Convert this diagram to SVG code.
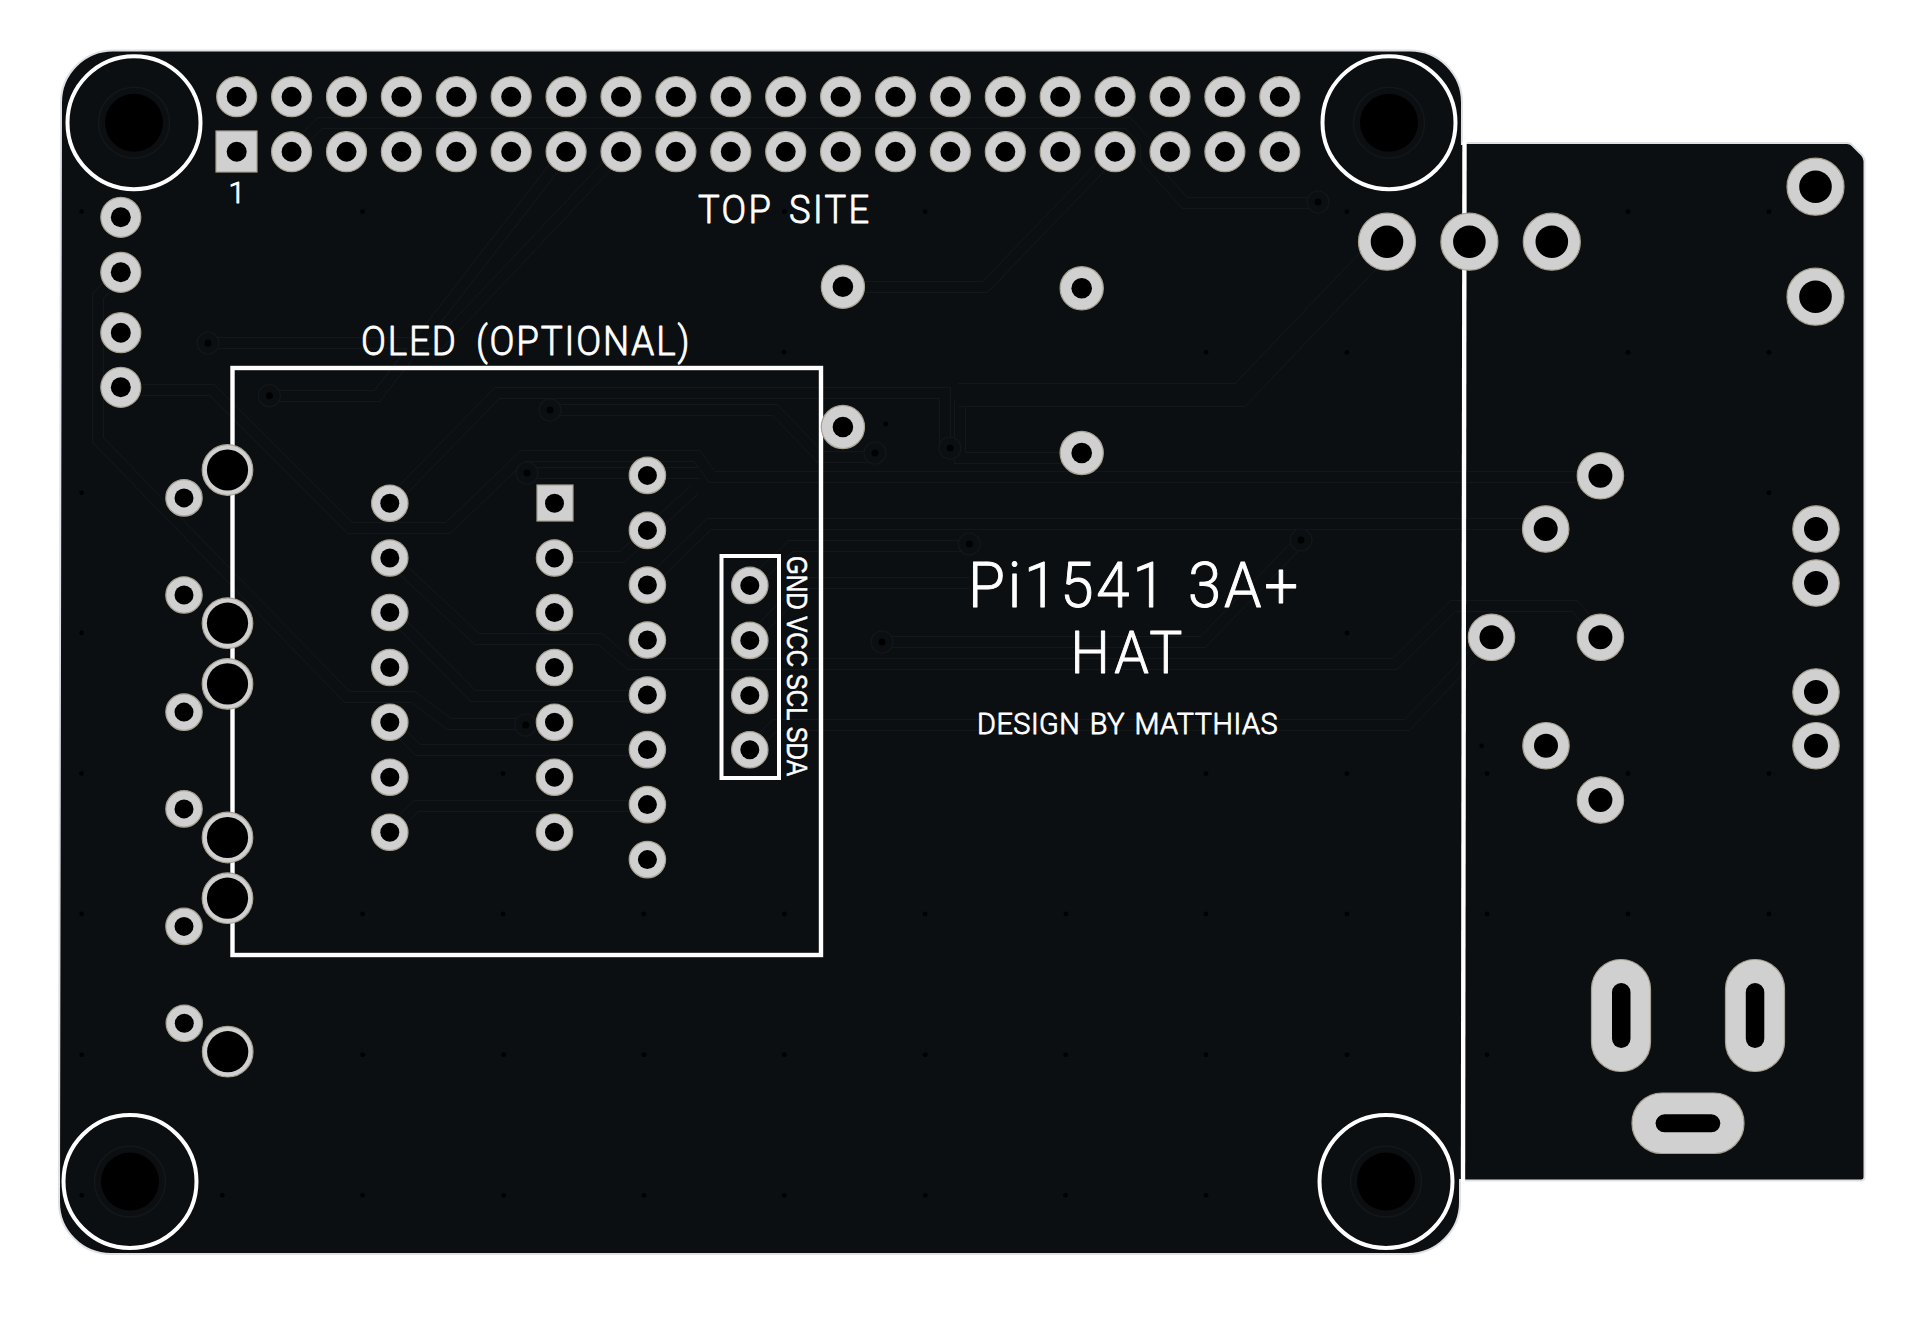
<svg xmlns="http://www.w3.org/2000/svg" xmlns:xlink="http://www.w3.org/1999/xlink" width="1920" height="1337" viewBox="0 0 1920 1337">
<style>
.p{fill:#d0d0d0;stroke:#a8a292;stroke-width:1.2}
.h{fill:#000}
.b{fill:#0c0f12;stroke:#e0e1e5;stroke-width:2}
.silk{fill:none;stroke:#fff}
.t{font-family:Roboto,"Liberation Sans",sans-serif;font-weight:300;fill:#fff;stroke:#fff;stroke-width:.9;stroke-linejoin:round}
.tb{font-family:"Liberation Sans",Arial,sans-serif;fill:#fff;stroke:#fff;stroke-width:.5}
.d{fill:#000}
.tr{fill:none;stroke-linejoin:miter}
</style>
<defs>
<g id="pad20"><circle class="p" r="20"/><circle class="h" r="10"/></g>
<g id="pad18"><circle class="p" r="18.2"/><circle class="h" r="9.5"/></g>
<g id="pad22"><circle class="p" r="21.6"/><circle class="h" r="10.3"/></g>
<g id="pad23"><circle class="p" r="23.2"/><circle class="h" r="12"/></g>
<g id="pad29"><circle class="p" r="28.5"/><circle class="h" r="16.3"/></g>
<g id="ring25"><circle class="p" r="25.3"/><circle class="h" r="20.6"/></g>
<g id="mount"><circle r="35.5" fill="#0c0f12" stroke="#14171a" stroke-width="1.5"/><circle class="h" r="29"/><circle class="silk" r="66.5" stroke-width="4"/></g>
<g id="via"><circle r="11" fill="#0c0f12" stroke="#14171a" stroke-width="1.2"/><circle class="h" r="3.5"/></g>
<g id="traces">
<path d="M121,390H212L350,528H448L523,456H697L712,477H1600"/>
<path d="M121,272L98,296V440L347,697H413L449,724H525"/>
<path d="M390,558L477,639H600L630,664H1395L1453,606H1575L1600,637"/>
<path d="M390,612L473,696H647"/>
<path d="M390,722L418,750H647"/>
<path d="M390,832L416,806H647"/>
<path d="M554,557H622L695,489"/>
<path d="M647,585L709,524H1545"/>
<path d="M390,503L497,393H945V448"/>
<path d="M960,400V458H1075"/>
<path d="M750,585L791,546H969"/>
<path d="M750,640L806,583H970"/>
<path d="M882,642H1203L1301,540"/>
<path d="M750,750L775,725H1407L1490,637"/>
<path d="M269,396H377L566,152"/>
<path d="M208,343H440L620,152"/>
<path d="M291,152L320,123H1128L1146,143V160L1185,203H1318"/>
<path d="M843,287H985L1115,152"/>
<path d="M550,410H775L820,457H870"/>
<path d="M527,473H700"/>
<path d="M825,457H843"/>
</g>
</defs>
<rect width="1920" height="1337" fill="#fff"/>
<g id="board">
<path class="b" d="M113,50.5H1410A52,52 0 0 1 1462,102.5L1460,1202A52,52 0 0 1 1408,1254H111A52,52 0 0 1 59,1202L61,102.5A52,52 0 0 1 113,50.5Z"/>
<path class="b" stroke-linejoin="round" d="M1464,143H1847Q1851,143 1853,146L1862,155Q1864.5,158 1864.5,161V1177Q1864.5,1180.5 1861,1180.5H1463Z"/>
<rect x="1440" y="145" width="30" height="1034" fill="#0c0f12"/>
</g>
<g id="connectors" class="tr">
<use href="#traces" stroke="#14171a" stroke-width="12"/>
<use href="#traces" stroke="#0c0f12" stroke-width="10"/>
<path d="M1387,241L1240,395H958" stroke="#14171a" stroke-width="24"/>
<path d="M1387,241L1240,395H958" stroke="#0c0f12" stroke-width="22"/>
</g>
<g id="stitching" class="d">
<circle cx="81.6" cy="211.7" r="2.4"/><circle cx="362.6" cy="211.7" r="2.4"/><circle cx="784.4" cy="211.7" r="2.4"/><circle cx="925" cy="211.7" r="2.4"/><circle cx="1347" cy="211.7" r="2.4"/><circle cx="1628" cy="211.7" r="2.4"/><circle cx="1769" cy="211.7" r="2.4"/>
<circle cx="784" cy="352.3" r="2.4"/><circle cx="1206" cy="352.3" r="2.4"/><circle cx="1347" cy="352.3" r="2.4"/><circle cx="1628" cy="352.3" r="2.4"/><circle cx="1769" cy="352.3" r="2.4"/>
<circle cx="885.7" cy="424" r="2.4"/>
<circle cx="81.6" cy="492.7" r="2.4"/><circle cx="1769" cy="492.7" r="2.4"/>
<circle cx="81.6" cy="633" r="2.4"/><circle cx="1347" cy="633" r="2.4"/>
<circle cx="1481.6" cy="746" r="2.4"/>
<circle cx="81.6" cy="773.6" r="2.4"/><circle cx="503" cy="773.6" r="2.4"/><circle cx="1206" cy="773.6" r="2.4"/><circle cx="1347" cy="773.6" r="2.4"/><circle cx="1487" cy="773.6" r="2.4"/><circle cx="1628" cy="773.6" r="2.4"/><circle cx="1769" cy="773.6" r="2.4"/>
<circle cx="81.6" cy="914" r="2.4"/><circle cx="362.6" cy="914" r="2.4"/><circle cx="503" cy="914" r="2.4"/><circle cx="643.8" cy="914" r="2.4"/><circle cx="784.4" cy="914" r="2.4"/><circle cx="925" cy="914" r="2.4"/><circle cx="1066" cy="914" r="2.4"/><circle cx="1206" cy="914" r="2.4"/><circle cx="1347" cy="914" r="2.4"/><circle cx="1487" cy="914" r="2.4"/><circle cx="1628" cy="914" r="2.4"/><circle cx="1769" cy="914" r="2.4"/>
<circle cx="81.7" cy="1054.7" r="2.4"/><circle cx="362.7" cy="1054.7" r="2.4"/><circle cx="503.7" cy="1054.7" r="2.4"/><circle cx="644" cy="1054.7" r="2.4"/><circle cx="784.3" cy="1054.7" r="2.4"/><circle cx="925.3" cy="1054.7" r="2.4"/><circle cx="1065.6" cy="1054.7" r="2.4"/><circle cx="1206" cy="1054.7" r="2.4"/><circle cx="1347" cy="1054.7" r="2.4"/><circle cx="1487" cy="1054.7" r="2.4"/>
<circle cx="81.7" cy="1195.3" r="2.4"/><circle cx="222.3" cy="1195.3" r="2.4"/><circle cx="362.7" cy="1195.3" r="2.4"/><circle cx="503.7" cy="1195.3" r="2.4"/><circle cx="644" cy="1195.3" r="2.4"/><circle cx="784.3" cy="1195.3" r="2.4"/><circle cx="925.3" cy="1195.3" r="2.4"/><circle cx="1065.6" cy="1195.3" r="2.4"/><circle cx="1206" cy="1195.3" r="2.4"/>
</g>
<g id="vias">
<use href="#via" x="269.4" y="395.7"/><use href="#via" x="208" y="343"/><use href="#via" x="1318" y="202"/><use href="#via" x="550" y="410"/><use href="#via" x="527" y="473"/><use href="#via" x="525.7" y="725"/><use href="#via" x="875" y="453"/><use href="#via" x="950" y="448"/><use href="#via" x="969.3" y="544"/><use href="#via" x="882" y="642"/><use href="#via" x="1301" y="540"/>
</g>
<g id="silkscreen">
<path class="silk" stroke-width="4.4" d="M1464.5,142L1463,1182"/>
<rect id="oled-outline" class="silk" stroke-width="4.4" x="232.5" y="368" width="588.5" height="587"/>
<rect id="i2c-outline" class="silk" stroke-width="4" x="721.5" y="556" width="57.5" height="222"/>
</g>
<g id="mounting-holes">
<use id="mh1" href="#mount" x="134" y="122.7"/>
<use id="mh2" href="#mount" x="1389" y="122.7"/>
<use id="mh3" href="#mount" x="130" y="1181.5"/>
<use id="mh4" href="#mount" x="1386" y="1181.5"/>
</g>
<g id="header-top">
<use href="#pad20" x="236.7" y="96.7"/><use href="#pad20" x="291.6" y="96.7"/><use href="#pad20" x="346.5" y="96.7"/><use href="#pad20" x="401.4" y="96.7"/><use href="#pad20" x="456.3" y="96.7"/><use href="#pad20" x="511.2" y="96.7"/><use href="#pad20" x="566.1" y="96.7"/><use href="#pad20" x="621" y="96.7"/><use href="#pad20" x="675.9" y="96.7"/><use href="#pad20" x="730.8" y="96.7"/><use href="#pad20" x="785.7" y="96.7"/><use href="#pad20" x="840.6" y="96.7"/><use href="#pad20" x="895.5" y="96.7"/><use href="#pad20" x="950.4" y="96.7"/><use href="#pad20" x="1005.3" y="96.7"/><use href="#pad20" x="1060.2" y="96.7"/><use href="#pad20" x="1115.1" y="96.7"/><use href="#pad20" x="1170" y="96.7"/><use href="#pad20" x="1224.9" y="96.7"/><use href="#pad20" x="1279.8" y="96.7"/>
</g>
<g id="header-bottom">
<g id="pin1"><rect class="p" x="216" y="131" width="41" height="41"/><circle class="h" cx="236.7" cy="151.7" r="10"/></g>
<use href="#pad20" x="291.6" y="151.7"/><use href="#pad20" x="346.5" y="151.7"/><use href="#pad20" x="401.4" y="151.7"/><use href="#pad20" x="456.3" y="151.7"/><use href="#pad20" x="511.2" y="151.7"/><use href="#pad20" x="566.1" y="151.7"/><use href="#pad20" x="621" y="151.7"/><use href="#pad20" x="675.9" y="151.7"/><use href="#pad20" x="730.8" y="151.7"/><use href="#pad20" x="785.7" y="151.7"/><use href="#pad20" x="840.6" y="151.7"/><use href="#pad20" x="895.5" y="151.7"/><use href="#pad20" x="950.4" y="151.7"/><use href="#pad20" x="1005.3" y="151.7"/><use href="#pad20" x="1060.2" y="151.7"/><use href="#pad20" x="1115.1" y="151.7"/><use href="#pad20" x="1170" y="151.7"/><use href="#pad20" x="1224.9" y="151.7"/><use href="#pad20" x="1279.8" y="151.7"/>
</g>
<g id="left-pads">
<use href="#pad20" x="120.8" y="217.3"/><use href="#pad20" x="120.8" y="272.3"/><use href="#pad20" x="120.8" y="332.7"/><use href="#pad20" x="120.8" y="387.3"/>
</g>
<g id="switches">
<use href="#ring25" x="227.5" y="470"/><use href="#ring25" x="227.5" y="623.2"/><use href="#ring25" x="227.5" y="683.9"/><use href="#ring25" x="227.5" y="837.5"/><use href="#ring25" x="227.5" y="898.2"/><use href="#ring25" x="227.7" y="1051.7"/>
<use href="#pad18" x="184" y="497.9"/><use href="#pad18" x="184" y="595"/><use href="#pad18" x="184" y="712.1"/><use href="#pad18" x="184" y="808.9"/><use href="#pad18" x="184" y="926.4"/><use href="#pad18" x="184.3" y="1023.3"/>
</g>
<g id="col-a">
<use href="#pad18" x="389.8" y="503.2"/><use href="#pad18" x="389.8" y="558"/><use href="#pad18" x="389.8" y="612.5"/><use href="#pad18" x="389.8" y="667.5"/><use href="#pad18" x="389.8" y="722.2"/><use href="#pad18" x="389.8" y="777.2"/><use href="#pad18" x="389.8" y="832.2"/>
</g>
<g id="col-b">
<g id="b1"><rect class="p" x="537" y="485" width="36" height="36"/><circle class="h" cx="554.5" cy="503.2" r="9.5"/></g>
<use href="#pad18" x="554.5" y="558"/><use href="#pad18" x="554.5" y="612.5"/><use href="#pad18" x="554.5" y="667.5"/><use href="#pad18" x="554.5" y="722.2"/><use href="#pad18" x="554.5" y="777.2"/><use href="#pad18" x="554.5" y="832.2"/>
</g>
<g id="col-c">
<use href="#pad18" x="647.4" y="475.4"/><use href="#pad18" x="647.4" y="530.4"/><use href="#pad18" x="647.4" y="585"/><use href="#pad18" x="647.4" y="640"/><use href="#pad18" x="647.4" y="695"/><use href="#pad18" x="647.4" y="749.6"/><use href="#pad18" x="647.4" y="804.6"/><use href="#pad18" x="647.4" y="859.6"/>
</g>
<g id="col-d">
<use href="#pad18" x="749.8" y="585.4"/><use href="#pad18" x="749.8" y="640.4"/><use href="#pad18" x="749.8" y="695.4"/><use href="#pad18" x="749.8" y="749.8"/>
</g>
<g id="mid-pads">
<use href="#pad22" x="842.9" y="286.7"/><use href="#pad22" x="1081.7" y="288.3"/><use href="#pad22" x="842.9" y="427"/><use href="#pad22" x="1081.7" y="453"/>
</g>
<g id="right-pads">
<use href="#pad29" x="1387" y="241.7"/><use href="#pad29" x="1469.4" y="241.7"/><use href="#pad29" x="1551.8" y="241.7"/><use href="#pad29" x="1815.5" y="186.7"/><use href="#pad29" x="1815.5" y="296.7"/>
<use href="#pad23" x="1600.4" y="475.7"/><use href="#pad23" x="1545.7" y="529"/><use href="#pad23" x="1816" y="529"/><use href="#pad23" x="1816" y="583"/>
<use href="#pad23" x="1491.5" y="637.3"/><use href="#pad23" x="1600.4" y="637.3"/><use href="#pad23" x="1546" y="745.7"/><use href="#pad23" x="1600.4" y="800"/><use href="#pad23" x="1816" y="692"/><use href="#pad23" x="1816" y="745.7"/>
</g>
<g id="power-jack">
<g id="slot1"><rect class="p" x="1591.5" y="959.5" width="59" height="112" rx="29.5"/><rect class="h" x="1612" y="983" width="18.5" height="65" rx="9.2"/></g>
<g id="slot2"><rect class="p" x="1725.5" y="959.5" width="59" height="112" rx="29.5"/><rect class="h" x="1745.8" y="983" width="18.5" height="65" rx="9.2"/></g>
<g id="slot3"><rect class="p" x="1632" y="1093" width="112" height="60.5" rx="30"/><rect class="h" x="1655.6" y="1114.3" width="64.7" height="18" rx="9"/></g>
</g>
<g id="labels">
<text class="t" x="236.7" y="203" font-size="30" text-anchor="middle">1</text>
<text class="t" transform="translate(698,223) scale(.92,1)" font-size="39.5" word-spacing="5" textLength="186" lengthAdjust="spacing">TOP SITE</text>
<text class="t" transform="translate(361,355) scale(.92,1)" font-size="40" word-spacing="8" textLength="357" lengthAdjust="spacing">OLED (OPTIONAL)</text>
<text class="t" transform="translate(968,607.3) scale(.96,1)" font-size="62.5" word-spacing="2" textLength="344" lengthAdjust="spacing">Pi1541 3A+</text>
<text class="t" transform="translate(1070.5,673.3) scale(.94,1)" font-size="59" textLength="119" lengthAdjust="spacing">HAT</text>
<text class="t" transform="translate(977,734) scale(.96,1)" font-size="30" word-spacing="2" textLength="313" lengthAdjust="spacing" stroke-width="1.4">DESIGN BY MATTHIAS</text>
<text class="tb" transform="translate(787,556) rotate(90)" x="0" y="0" font-size="30" textLength="220" lengthAdjust="spacingAndGlyphs">GND VCC SCL SDA</text>
</g>
</svg>
